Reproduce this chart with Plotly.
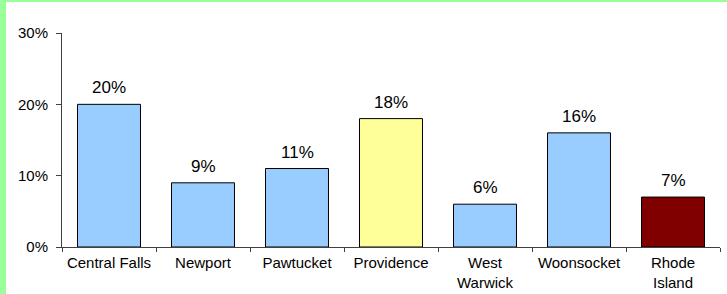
import plotly.graph_objects as go

categories = ["Central Falls", "Newport", "Pawtucket", "Providence", "West<br>Warwick", "Woonsocket", "Rhode<br>Island"]
values = [0.20, 0.09, 0.11, 0.18, 0.06, 0.16, 0.07]
labels = ["20%", "9%", "11%", "18%", "6%", "16%", "7%"]
colors = ["#99CCFF", "#99CCFF", "#99CCFF", "#FFFF99", "#99CCFF", "#99CCFF", "#800000"]
ytickvals = [0, 0.1, 0.2, 0.3]
yticktext = ["0%", "10%", "20%", "30%"]

W, H = 727, 294
ml, mr, mt, mb = 62, 7, 33, 47
pw, ph = W - ml - mr, H - mt - mb

fig = go.Figure(go.Bar(
    x=categories, y=values,
    marker=dict(color=colors, line=dict(color="black", width=1)),
    width=0.67,
))

for c, v, t in zip(categories, values, labels):
    fig.add_annotation(x=c, y=v, text=t, showarrow=False, yanchor="bottom", yshift=5,
                       font=dict(family="Liberation Sans, Arial", size=17, color="black"))

def px2x(p):
    return (p - ml) / pw

def px2y(p):
    return (H - mb - p) / ph

shapes = [
    dict(type="rect", xref="paper", yref="paper", x0=px2x(0), x1=px2x(6), y0=px2y(H), y1=px2y(0),
         fillcolor="#99FF99", line=dict(width=0), layer="below"),
    dict(type="rect", xref="paper", yref="paper", x0=px2x(0), x1=px2x(W), y0=px2y(2), y1=px2y(0),
         fillcolor="#99FF99", line=dict(width=0), layer="below"),
]

fig.update_layout(
    width=W, height=H,
    margin=dict(l=ml, r=mr, t=mt, b=mb),
    paper_bgcolor="white", plot_bgcolor="white",
    showlegend=False,
    shapes=shapes,
    font=dict(family="Liberation Sans, Arial", size=15, color="black"),
    xaxis=dict(
        showline=True, linecolor="#404040", linewidth=1,
        ticks="outside", tickson="boundaries", ticklen=4, tickcolor="#404040",
        showgrid=False, tickfont=dict(size=15), fixedrange=True, ticklabelstandoff=2,
        automargin=False,
    ),
    yaxis=dict(
        range=[0, 0.3], tickvals=ytickvals, ticktext=yticktext,
        showline=True, linecolor="#404040", linewidth=1,
        ticks="outside", ticklen=5, tickcolor="#404040",
        showgrid=False, zeroline=False, tickfont=dict(size=15), ticklabelstandoff=5,
        fixedrange=True, automargin=False,
    ),
)

fig.write_html("out.html", config={"displayModeBar": False},
               post_script="document.body.style.margin='0';")
